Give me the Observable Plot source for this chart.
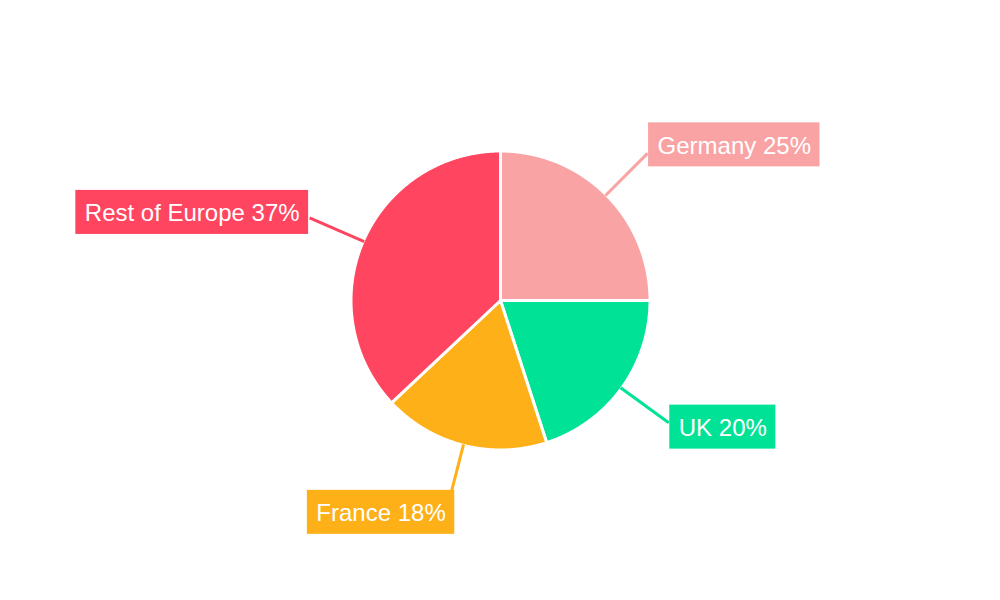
<!DOCTYPE html>
<html><head><meta charset="utf-8">
<script src="https://cdn.jsdelivr.net/npm/d3@7"></script>
<script src="https://cdn.jsdelivr.net/npm/@observablehq/plot@0.6"></script>
<style>html,body{margin:0;padding:0;background:#fff;}</style>
</head><body><div id="chart"></div>
<script>
// ---- data ----
const categories = ["Germany", "UK", "France", "Rest of Europe"];
const shares = [25, 20, 18, 37];
const colors = ["#F9A3A4", "#00E396", "#FEB019", "#FF4560"];

// ---- geometry ----
const cx = 500, cy = 300, R = 149.5, R2 = 208;
const FONT_FAMILY = "'Liberation Sans', Arial, Helvetica, sans-serif";
const FONT_SIZE = 24;

const arcs = d3.pie().sort(null).value(d => d)(shares);
const pt = (a, r) => [cx + r * Math.sin(a), cy - r * Math.cos(a)];

const slicePts = [];
arcs.forEach((a, i) => {
  slicePts.push({name: categories[i], x: cx, y: cy});
  const n = Math.max(2, Math.ceil((a.endAngle - a.startAngle) / 0.005));
  for (let k = 0; k <= n; k++) {
    const t = a.startAngle + (a.endAngle - a.startAngle) * k / n;
    const [x, y] = pt(t, R);
    slicePts.push({name: categories[i], x, y});
  }
});

const ctx = document.createElement("canvas").getContext("2d");
ctx.font = `${FONT_SIZE}px ${FONT_FAMILY}`;

const links = [], labels = [];
arcs.forEach((a, i) => {
  const mid = (a.startAngle + a.endAngle) / 2;
  const s = Math.sin(mid), c = Math.cos(mid);
  const side = Math.abs(s) > 0.5;
  const rEnd = side ? R2 : R2 - 12;
  const [x0, y0] = pt(mid, R - 1);
  const [x1, y1] = pt(mid, rEnd);
  links.push({name: categories[i], x1: x0, y1: y0, x2: x1, y2: y1});
  const text = `${categories[i]} ${shares[i]}%`;
  const w = ctx.measureText(text).width + 18, h = 44;
  let bx1, by1;
  if (side) {
    bx1 = s > 0 ? x1 + 1 : x1 - w - 1;
    by1 = y1 - 10 * c - 1.5 - h / 2;
  } else {
    bx1 = s < 0 ? x1 + 3 - w : x1 - 3;
    by1 = c < 0 ? y1 : y1 - h;
  }
  labels.push({name: categories[i], text, x1: bx1, x2: bx1 + w, y1: by1, y2: by1 + h,
               tx: bx1 + w / 2, ty: by1 + h / 2 + 1});
});

const chart = Plot.plot({
  width: 1000, height: 600, margin: 0,
  style: {background: "white"},
  x: {type: "linear", domain: [0, 1000], range: [0, 1000], axis: null},
  y: {type: "linear", domain: [0, 600], range: [0, 600], axis: null},
  color: {domain: categories, range: colors},
  marks: [
    Plot.line(slicePts, {x: "x", y: "y", z: "name", fill: "name", stroke: "white",
                         strokeWidth: 3, curve: "linear-closed", strokeLinejoin: "round"}),
    Plot.link(links, {x1: "x1", y1: "y1", x2: "x2", y2: "y2", stroke: "name", strokeWidth: 3}),
    Plot.rect(labels, {x1: "x1", x2: "x2", y1: "y1", y2: "y2", fill: "name"}),
    Plot.text(labels, {x: "tx", y: "ty", text: "text", fill: "white",
                       fontSize: FONT_SIZE, fontFamily: FONT_FAMILY, textAnchor: "middle"})
  ]
});
document.getElementById("chart").appendChild(chart);
</script>
</body></html>
